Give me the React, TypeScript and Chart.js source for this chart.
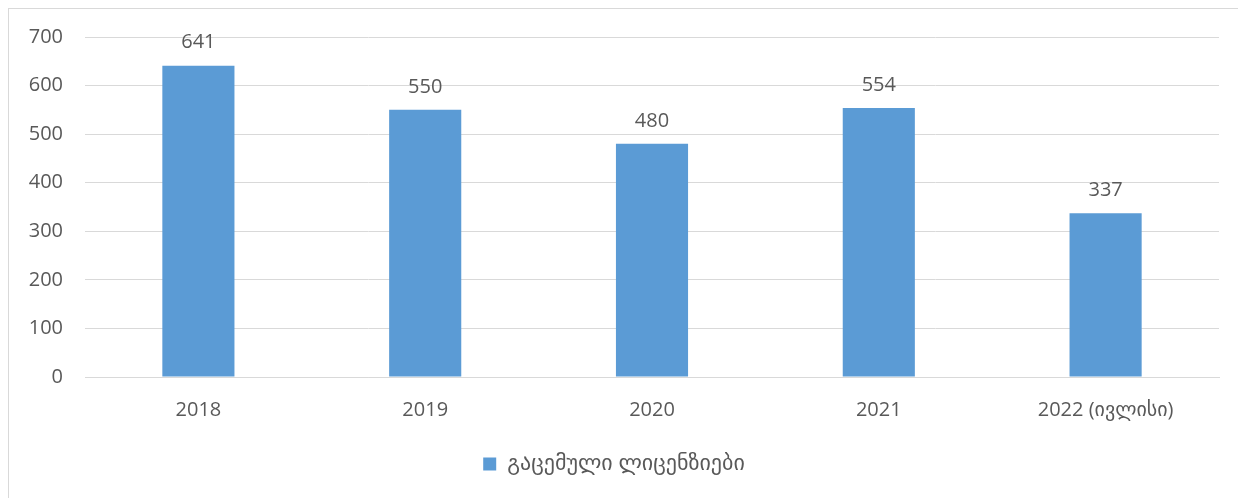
import React, { useEffect, useRef } from "react";
import { Chart, registerables } from "chart.js";

Chart.register(...registerables);

const categories = ["2018", "2019", "2020", "2021", "2022 (ივლისი)"];
const licenses = [641, 550, 480, 554, 337];
const seriesName = "გაცემული ლიცენზიები";
const yTicks = [0, 100, 200, 300, 400, 500, 600, 700];

const FONT = "'Open Sans', 'DejaVu Sans', sans-serif";
const TEXT = "#595959";
const BAR = "#5B9BD5";
const GRID = "#D9D9D9";
const SIZE = 20;

const valueLabels = {
  id: "valueLabels",
  afterDatasetsDraw(chart: any) {
    const ctx = chart.ctx;
    ctx.save();
    ctx.font = `${SIZE}px ${FONT}`;
    ctx.fillStyle = TEXT;
    ctx.textAlign = "center";
    ctx.textBaseline = "middle";
    chart.data.datasets.forEach((ds: any, i: number) => {
      const meta = chart.getDatasetMeta(i);
      meta.data.forEach((el: any, j: number) => {
        ctx.fillText(String(ds.data[j]), el.x, el.y - 23);
      });
    });
    ctx.restore();
  },
};

export default function App() {
  const ref = useRef<HTMLCanvasElement | null>(null);
  useEffect(() => {
    if (!ref.current) return;
    const chart = new Chart(ref.current, {
      type: "bar",
      data: {
        labels: categories,
        datasets: [
          {
            label: seriesName,
            data: licenses,
            backgroundColor: BAR,
            borderWidth: 0,
            categoryPercentage: 1,
            barPercentage: 0.318,
          },
        ],
      },
      options: {
        animation: false,
        responsive: false,
        maintainAspectRatio: false,
        layout: { padding: { top: 28, right: 26, left: 0, bottom: 24 } },
        plugins: {
          tooltip: { enabled: false },
          legend: {
            position: "bottom",
            labels: {
              boxWidth: 13,
              boxHeight: 13,
              color: TEXT,
              font: { family: FONT, size: 22 },
              padding: 10,
            },
          },
        },
        scales: {
          x: {
            grid: { display: false, drawTicks: false },
            border: { display: true, color: GRID },
            ticks: { color: TEXT, font: { family: FONT, size: SIZE }, padding: 21, maxRotation: 0 },
          },
          y: {
            min: 0,
            max: 700,
            afterBuildTicks: (scale: any) => {
              scale.ticks = yTicks.map((v) => ({ value: v }));
            },
            afterFit: (scale: any) => {
              scale.width = 76;
              scale.paddingTop = 0;
              scale.paddingBottom = 0;
            },
            grid: { color: GRID, drawTicks: false },
            border: { display: false },
            ticks: { color: TEXT, font: { family: FONT, size: SIZE }, padding: 22 },
          },
        },
      },
      plugins: [valueLabels],
    });
    return () => chart.destroy();
  }, []);
  return (
    <div style={{ width: 1236, height: 500, border: "1px solid #D9D9D9", fontFamily: FONT }}>
      <canvas ref={ref} width={1236} height={500} style={{ display: "block" }} />
    </div>
  );
}
